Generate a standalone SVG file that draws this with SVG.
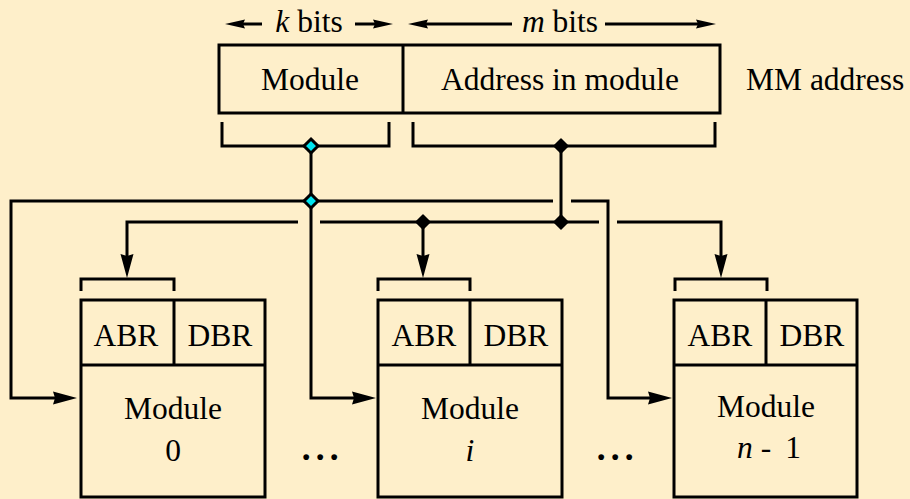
<svg xmlns="http://www.w3.org/2000/svg" width="910" height="499" viewBox="0 0 910 499">
<style>
  .t { font-family: "Liberation Serif", "Times New Roman", serif; font-size: 31.5px; fill: #000; }
  .c { text-anchor: middle; }
  .i { font-style: italic; }
  .box { fill: none; stroke: #000; stroke-width: 3; }
  .ln { fill: none; stroke: #000; stroke-width: 3; stroke-linejoin: miter; }
  .jc { fill: #00E5F0; stroke: #000; stroke-width: 3; }
  .jb { fill: #000; stroke: #000; stroke-width: 1.5; stroke-linejoin: round; }
  .dots { font-family: "Liberation Serif", serif; font-size: 36px; font-weight: bold; font-style: italic; letter-spacing: 5px; }
</style>
<defs>
  <marker id="ah" markerUnits="userSpaceOnUse" markerWidth="26" markerHeight="14" refX="3" refY="7" orient="auto">
    <path d="M0,0.5 L24,7 L0,13.5 L2,7 Z" fill="#000"/>
  </marker>
  <marker id="as" markerUnits="userSpaceOnUse" markerWidth="22" markerHeight="11" refX="3" refY="5.5" orient="auto">
    <path d="M0,1 L20,5.5 L0,10 L2,5.5 Z" fill="#000"/>
  </marker>
</defs>
<rect x="0" y="0" width="910" height="499" fill="#FEEFCA"/>

<g id="bit-widths">
  <line class="ln" x1="262" y1="24" x2="242" y2="24" marker-end="url(#as)"/>
  <text class="t" x="309" y="32" text-anchor="middle"><tspan class="i">k</tspan> bits</text>
  <line class="ln" x1="355" y1="24" x2="376" y2="24" marker-end="url(#as)"/>
  <line class="ln" x1="512" y1="24" x2="425" y2="24" marker-end="url(#as)"/>
  <text class="t" x="560" y="32" text-anchor="middle"><tspan class="i">m</tspan> bits</text>
  <line class="ln" x1="605" y1="24" x2="699" y2="24" marker-end="url(#as)"/>
</g>

<g id="mm-address">
  <rect class="box" x="219" y="45" width="501" height="68"/>
  <line class="ln" x1="403" y1="45" x2="403" y2="113"/>
  <text class="t c" x="310" y="90">Module</text>
  <text class="t c" x="560" y="90">Address in module</text>
  <text class="t" x="746" y="90">MM address</text>
</g>

<g id="module-0">
  <path class="ln" d="M81,291 V279 H174 V291"/>
  <rect class="box" x="81" y="300" width="184" height="197"/>
  <line class="ln" x1="81" y1="365" x2="265" y2="365"/>
  <line class="ln" x1="174" y1="300" x2="174" y2="365"/>
  <text class="t c" x="126" y="346">ABR</text>
  <text class="t c" x="220" y="346">DBR</text>
  <text class="t c" x="173" y="419">Module</text>
  <text class="t c" x="173" y="461">0</text>
</g>

<g id="module-i">
  <path class="ln" d="M378,291 V279 H470 V291"/>
  <rect class="box" x="378" y="300" width="184" height="197"/>
  <line class="ln" x1="378" y1="365" x2="562" y2="365"/>
  <line class="ln" x1="470" y1="300" x2="470" y2="365"/>
  <text class="t c" x="424" y="346">ABR</text>
  <text class="t c" x="516" y="346">DBR</text>
  <text class="t c" x="470" y="419">Module</text>
  <text class="t c i" x="470" y="461">i</text>
</g>

<g id="module-n-1">
  <path class="ln" d="M675,291 V279 H767 V291"/>
  <rect class="box" x="674" y="300" width="183" height="197"/>
  <line class="ln" x1="674" y1="365" x2="857" y2="365"/>
  <line class="ln" x1="766" y1="300" x2="766" y2="365"/>
  <text class="t c" x="720" y="346">ABR</text>
  <text class="t c" x="812" y="346">DBR</text>
  <text class="t c" x="766" y="417">Module</text>
  <text class="t" x="737" y="458"><tspan class="i">n</tspan> -<tspan dx="14">1</tspan></text>
</g>

<g id="ellipses">
  <text class="dots" x="303" y="460">...</text>
  <text class="dots" x="598" y="460">...</text>
</g>

<g id="connectors">
  <!-- field brackets -->
  <path class="ln" d="M222,122 V146 H389 V122"/>
  <path class="ln" d="M413,122 V146 H715 V122"/>
  <!-- module-number path (k bits) -->
  <line class="ln" x1="311" y1="146" x2="311" y2="201"/>
  <path class="ln" d="M553,201 H11 V398 H56" marker-end="url(#ah)"/>
  <path class="ln" d="M311,201 V398 H355" marker-end="url(#ah)"/>
  <path class="ln" d="M571,201 H608 V398 H651" marker-end="url(#ah)"/>
  <!-- address-in-module path (m bits) -->
  <line class="ln" x1="561" y1="146" x2="561" y2="222"/>
  <path class="ln" d="M298,222 H127 V257" marker-end="url(#ah)"/>
  <line class="ln" x1="320" y1="222" x2="599" y2="222"/>
  <line class="ln" x1="423" y1="222" x2="423" y2="257" marker-end="url(#ah)"/>
  <path class="ln" d="M617,222 H721 V257" marker-end="url(#ah)"/>
  <!-- junctions -->
  <path class="jc" d="M311,139 L318,146 L311,153 L304,146 Z"/>
  <path class="jc" d="M311,194 L318,201 L311,208 L304,201 Z"/>
  <path class="jb" d="M561,139 L568,146 L561,153 L554,146 Z"/>
  <path class="jb" d="M561,215 L568,222 L561,229 L554,222 Z"/>
  <path class="jb" d="M423,215 L430,222 L423,229 L416,222 Z"/>
</g>
</svg>
